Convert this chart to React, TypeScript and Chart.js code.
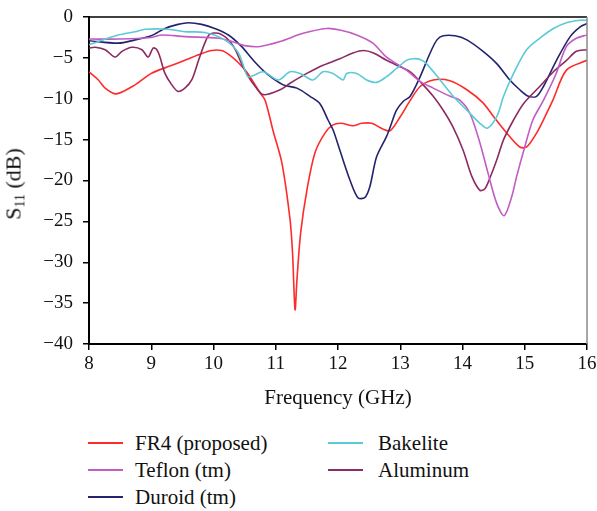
import React, { useEffect, useRef } from "react";
import { Chart, registerables } from "chart.js";

Chart.register(...registerables);

const xTicks = [8, 9, 10, 11, 12, 13, 14, 15, 16];
const yTicks = [0, -5, -10, -15, -20, -25, -30, -35, -40];

const fr4Freq = [8.0, 8.15, 8.26, 8.44, 8.74, 9.0, 9.3, 9.54, 9.8, 9.97, 10.13, 10.25, 10.4, 10.55, 10.75, 10.83, 10.96, 11.1, 11.23, 11.27, 11.31, 11.34, 11.4, 11.5, 11.63, 11.79, 11.92, 12.05, 12.24, 12.38, 12.54, 12.72, 12.84, 13.0, 13.16, 13.32, 13.53, 13.8, 14.07, 14.33, 14.5, 14.71, 14.92, 15.03, 15.19, 15.35, 15.45, 15.67, 16.0];
const fr4S11 = [-6.7, -7.7, -8.7, -9.4, -8.3, -6.9, -6.0, -5.3, -4.5, -4.1, -4.1, -4.6, -5.6, -6.9, -9.3, -10.2, -14.0, -17.9, -24.8, -28.9, -35.8, -32.2, -26.4, -21.2, -16.6, -14.2, -13.2, -13.0, -13.3, -13.0, -13.0, -13.7, -13.9, -12.2, -10.2, -8.5, -7.7, -7.8, -8.9, -10.5, -12.2, -14.2, -15.9, -15.9, -14.2, -11.8, -10.2, -6.5, -5.3];

const teflonFreq = [8.0, 8.5, 9.0, 9.17, 9.54, 10.08, 10.3, 10.5, 10.75, 11.07, 11.44, 11.82, 12.03, 12.3, 12.56, 12.78, 13.1, 13.32, 13.53, 13.8, 13.96, 14.12, 14.28, 14.41, 14.55, 14.67, 14.79, 14.87, 15.0, 15.13, 15.3, 15.5, 15.67, 15.83, 16.0];
const teflonS11 = [-2.7, -2.7, -2.5, -2.2, -2.4, -2.6, -3.0, -3.5, -3.6, -3.0, -2.0, -1.4, -1.6, -2.2, -3.2, -4.9, -6.5, -7.9, -8.7, -9.7, -10.2, -11.8, -15.4, -19.1, -22.8, -24.3, -22.0, -19.5, -15.9, -12.6, -10.2, -7.0, -3.6, -2.6, -2.2];

const duroidFreq = [8.0, 8.47, 8.74, 9.0, 9.22, 9.43, 9.6, 9.81, 10.02, 10.24, 10.45, 10.64, 10.85, 11.12, 11.34, 11.55, 11.71, 11.84, 11.92, 12.03, 12.19, 12.32, 12.43, 12.51, 12.62, 12.78, 12.86, 12.94, 13.05, 13.16, 13.32, 13.48, 13.59, 13.69, 13.88, 14.07, 14.33, 14.55, 14.76, 14.92, 15.06, 15.19, 15.3, 15.51, 15.73, 15.89, 16.0];
const duroidS11 = [-2.9, -3.2, -2.8, -2.3, -1.4, -0.9, -0.7, -0.9, -1.4, -2.2, -3.6, -5.3, -6.9, -8.3, -8.7, -9.7, -10.6, -12.6, -13.8, -16.3, -19.9, -22.1, -22.1, -20.8, -17.1, -14.6, -13.0, -11.4, -10.3, -9.7, -7.3, -4.4, -2.8, -2.3, -2.3, -2.8, -4.2, -5.7, -7.7, -8.9, -9.7, -9.7, -8.5, -5.3, -2.4, -1.2, -0.8];

const bakeliteFreq = [8.0, 8.15, 8.47, 8.74, 8.9, 9.27, 9.54, 9.86, 10.18, 10.4, 10.55, 10.63, 10.8, 11.04, 11.23, 11.39, 11.6, 11.76, 11.92, 12.08, 12.14, 12.3, 12.46, 12.62, 12.78, 12.94, 13.1, 13.21, 13.32, 13.42, 13.64, 13.85, 14.07, 14.28, 14.4, 14.55, 14.66, 14.82, 15.03, 15.24, 15.46, 15.67, 15.89, 16.0];
const bakeliteS11 = [-3.4, -3.0, -2.2, -1.8, -1.5, -1.5, -1.8, -1.9, -2.8, -4.4, -7.3, -7.2, -6.7, -7.7, -6.7, -6.9, -7.7, -6.7, -6.9, -7.7, -6.9, -6.9, -7.7, -8.0, -7.3, -6.3, -5.3, -5.1, -5.2, -5.7, -7.7, -9.7, -11.4, -13.0, -13.6, -12.2, -9.7, -6.9, -4.0, -2.6, -1.4, -0.7, -0.4, -0.4];

const aluminumFreq = [8.0, 8.1, 8.26, 8.42, 8.53, 8.69, 8.85, 8.95, 9.03, 9.09, 9.14, 9.22, 9.33, 9.43, 9.54, 9.65, 9.76, 9.86, 9.94, 10.08, 10.24, 10.35, 10.45, 10.56, 10.67, 10.8, 11.07, 11.23, 11.5, 11.76, 12.03, 12.24, 12.41, 12.57, 12.78, 13.0, 13.16, 13.32, 13.53, 13.69, 13.85, 14.01, 14.15, 14.28, 14.36, 14.44, 14.55, 14.66, 14.82, 14.98, 15.24, 15.46, 15.67, 15.83, 16.0];
const aluminumS11 = [-3.8, -3.7, -4.0, -4.9, -4.2, -3.7, -4.0, -4.9, -3.8, -4.0, -4.9, -6.9, -8.3, -9.1, -8.7, -7.7, -5.3, -3.2, -2.1, -2.0, -2.8, -4.0, -5.7, -7.3, -8.5, -9.5, -8.9, -8.1, -6.9, -5.9, -5.1, -4.4, -4.1, -4.4, -5.3, -6.1, -6.7, -7.9, -9.7, -11.4, -13.5, -16.3, -19.5, -21.2, -21.0, -19.7, -17.5, -15.0, -12.6, -10.6, -8.5, -6.7, -5.3, -4.2, -4.0];

const seriesNames = ["FR4 (proposed)", "Teflon (tm)", "Duroid (tm)", "Bakelite", "Aluminum"];
const seriesColors = ["#ff2a2a", "#c25cc4", "#23236e", "#5ccad6", "#8c2a62"];

const FONT = "'Liberation Serif', 'Times New Roman', serif";

function pts(xs: number[], ys: number[]) {
  return xs.map((x, i) => ({ x, y: ys[i] }));
}

const boxPlugin = {
  id: "boxPlugin",
  afterDraw(chart: any) {
    const { ctx, chartArea } = chart;
    ctx.save();
    ctx.strokeStyle = "#000";
    ctx.lineWidth = 1.5;
    ctx.beginPath();
    ctx.moveTo(chartArea.left, chartArea.top);
    ctx.lineTo(chartArea.right, chartArea.top);
    ctx.stroke();
    ctx.strokeStyle = "#8a8a8a";
    ctx.lineWidth = 1.5;
    ctx.beginPath();
    ctx.moveTo(chartArea.right, chartArea.top);
    ctx.lineTo(chartArea.right, chartArea.bottom);
    ctx.stroke();
    ctx.restore();
  },
};

export default function App() {
  const ref = useRef<HTMLCanvasElement | null>(null);
  useEffect(() => {
    if (!ref.current) return;
    const data = [
      pts(fr4Freq, fr4S11),
      pts(teflonFreq, teflonS11),
      pts(duroidFreq, duroidS11),
      pts(bakeliteFreq, bakeliteS11),
      pts(aluminumFreq, aluminumS11),
    ];
    const order = [3, 1, 4, 2, 0];
    const chart = new Chart(ref.current, {
      type: "line",
      data: {
        datasets: order.map((i) => ({
          label: seriesNames[i],
          data: data[i],
          borderColor: seriesColors[i],
          backgroundColor: seriesColors[i],
          borderWidth: 1.6,
          pointRadius: 0,
          tension: 0.3,
          fill: false,
        })),
      },
      options: {
        responsive: false,
        animation: false,
        layout: { padding: { left: 0, top: 17, right: 10, bottom: 0 } },
        plugins: { legend: { display: false }, tooltip: { enabled: false } },
        scales: {
          x: {
            type: "linear",
            min: 8,
            max: 16,
            afterFit: (s: any) => { s.height = 76; s.paddingLeft = 0; s.paddingRight = 0; },
            afterBuildTicks: (s: any) => { s.ticks = xTicks.map((v) => ({ value: v })); },
            ticks: { color: "#111", font: { family: FONT, size: 19 }, padding: 3 },
            grid: { drawOnChartArea: false, drawTicks: true, tickLength: 6, color: "#000", lineWidth: 1.5 },
            border: { color: "#000", width: 2 },
            title: { display: true, text: "Frequency (GHz)", color: "#111", font: { family: FONT, size: 21 }, padding: { top: 4, bottom: 9 } },
          },
          y: {
            type: "linear",
            min: -40,
            max: 0,
            afterFit: (s: any) => { s.width = 89; s.paddingTop = 0; s.paddingBottom = 0; },
            afterBuildTicks: (s: any) => { s.ticks = yTicks.map((v) => ({ value: v })); },
            ticks: {
              color: "#111",
              font: { family: FONT, size: 19 },
              padding: 10,
              callback: (v: any) => (Number(v) < 0 ? "\u2212" + Math.abs(Number(v)) : String(v)),
            },
            grid: { drawOnChartArea: false, drawTicks: true, tickLength: 6, color: "#000", lineWidth: 1.5 },
            border: { color: "#000", width: 2 },
          },
        },
      },
      plugins: [boxPlugin],
    } as any);
    return () => chart.destroy();
  }, []);

  const legendItems = [
    { i: 0, x: 88, y: 443 },
    { i: 1, x: 88, y: 470 },
    { i: 2, x: 88, y: 497 },
    { i: 3, x: 328, y: 443 },
    { i: 4, x: 328, y: 470 },
  ];

  return (
    <div style={{ position: "absolute", left: 0, top: 0, width: 597, height: 511, overflow: "hidden", background: "#fff", fontFamily: FONT, color: "#111" }}>
      <canvas ref={ref} width={597} height={420} style={{ position: "absolute", left: 0, top: 0 }} />
      <div
        style={{
          position: "absolute",
          left: 17,
          top: 184,
          transform: "translate(-50%, -50%) rotate(-90deg)",
          whiteSpace: "nowrap",
          fontSize: 22,
          lineHeight: "22px",
        }}
      >
        S<sub style={{ fontSize: 14, verticalAlign: "-4px" }}>11</sub> (dB)
      </div>
      {legendItems.map((it) => (
        <div key={it.i} style={{ position: "absolute", left: it.x, top: it.y - 13, height: 26, display: "flex", alignItems: "center", whiteSpace: "nowrap" }}>
          <span style={{ display: "inline-block", width: 35, height: 2, background: seriesColors[it.i] }} />
          <span style={{ marginLeft: it.i < 3 ? 12 : 15, fontSize: 21 }}>{seriesNames[it.i]}</span>
        </div>
      ))}
    </div>
  );
}
